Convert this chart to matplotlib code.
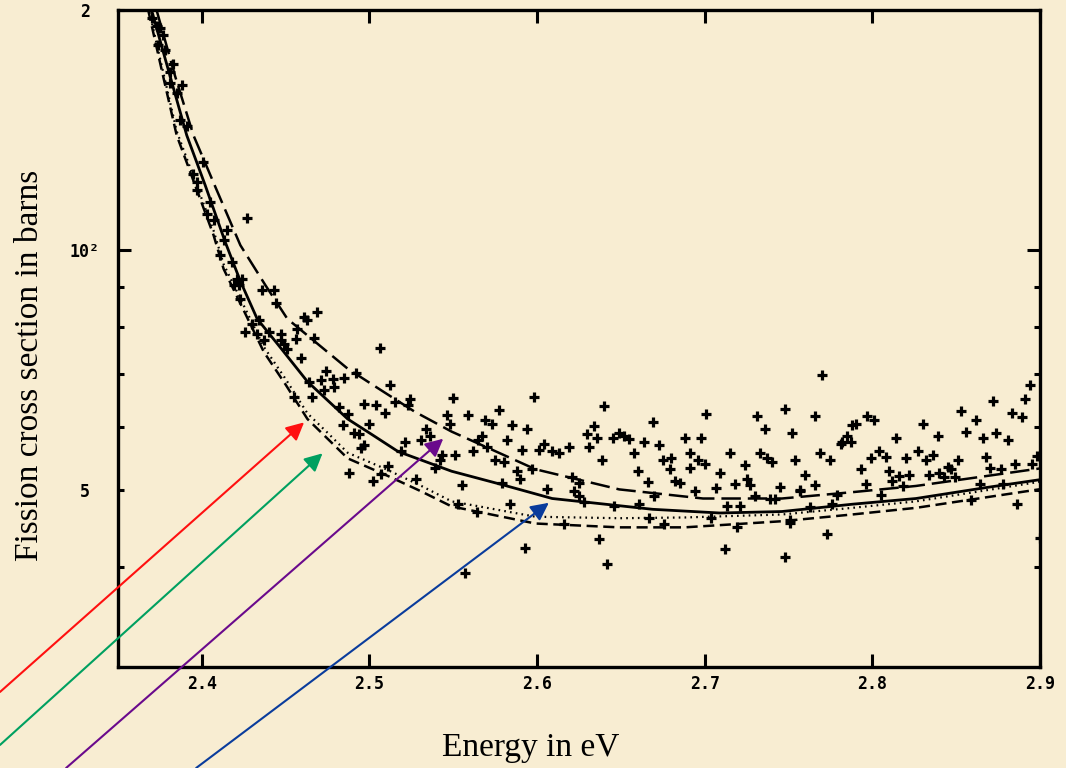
import numpy as np
import matplotlib
matplotlib.use("Agg")
import matplotlib.pyplot as plt

# measured cross sections (energy in eV, sigma in barns)
pts_E = [
    2.370, 2.375, 2.374, 2.378, 2.383, 2.388, 2.381, 2.387, 2.391, 2.401,
    2.395, 2.397, 2.405, 2.403, 2.407, 2.415, 2.413, 2.427, 2.397, 2.373,
    2.377, 2.385, 2.381,
    2.411, 2.418, 2.421, 2.424, 2.419, 2.422, 2.436, 2.443, 2.423, 2.444,
    2.461, 2.463, 2.469, 2.430, 2.434, 2.426, 2.433, 2.440, 2.447, 2.457,
    2.456, 2.447, 2.449, 2.437, 2.451, 2.467, 2.506, 2.459, 2.474, 2.471,
    2.478, 2.479, 2.473, 2.464, 2.485, 2.492, 2.512, 2.524, 2.523, 2.550,
    2.466, 2.455, 2.482, 2.487, 2.497, 2.504, 2.509, 2.515, 2.500, 2.484,
    2.491, 2.494, 2.521, 2.534, 2.536, 2.546, 2.548, 2.559, 2.497, 2.495,
    2.519, 2.531, 2.543, 2.542, 2.551, 2.562, 2.565, 2.511, 2.507, 2.488,
    2.502, 2.528, 2.539, 2.555,
    2.598, 2.577, 2.640, 2.569, 2.573, 2.669, 2.701, 2.731, 2.748, 2.585,
    2.594, 2.634, 2.649, 2.652, 2.655, 2.630, 2.636, 2.645, 2.664, 2.673,
    2.688, 2.698, 2.736, 2.752, 2.567, 2.582, 2.570, 2.591, 2.604, 2.601,
    2.609, 2.613, 2.619, 2.631, 2.639, 2.658, 2.660, 2.675, 2.680, 2.691,
    2.696, 2.700, 2.715, 2.733, 2.737, 2.740, 2.754, 2.679, 2.691, 2.709,
    2.724, 2.575, 2.580, 2.588, 2.590, 2.597, 2.621, 2.625, 2.666, 2.682,
    2.685, 2.725, 2.745, 2.757, 2.718, 2.727, 2.579, 2.606, 2.622, 2.625,
    2.628, 2.646, 2.661, 2.694, 2.670, 2.707, 2.713, 2.721, 2.730, 2.739,
    2.742, 2.553, 2.564, 2.584, 2.667, 2.676, 2.704, 2.719, 2.616, 2.751,
    2.593, 2.637, 2.712, 2.748, 2.642, 2.557,
    2.770, 2.894, 2.872, 2.891, 2.883, 2.889, 2.853, 2.862, 2.766, 2.797,
    2.801, 2.830, 2.790, 2.788, 2.856, 2.874, 2.881, 2.866, 2.785, 2.782,
    2.787, 2.781, 2.814, 2.839, 2.769, 2.775, 2.799, 2.804, 2.808, 2.820,
    2.827, 2.832, 2.836, 2.851, 2.868, 2.898, 2.885, 2.895, 2.870, 2.877,
    2.845, 2.847, 2.793, 2.810, 2.816, 2.822, 2.834, 2.840, 2.843, 2.849,
    2.760, 2.812, 2.796, 2.766, 2.818, 2.864, 2.878, 2.757, 2.779, 2.805,
    2.886, 2.776, 2.763, 2.751, 2.859, 2.900, 2.773,
]
pts_sigma = [
    195.4, 190.0, 181.0, 178.0, 171.0, 161.0, 162.0, 145.5, 143.0, 129.0,
    124.5, 119.0, 115.0, 111.0, 109.0, 106.0, 103.0, 109.7, 121.6, 191.0,
    186.0, 157.6, 167.0,
    98.6, 96.6, 92.0, 92.0, 90.4, 90.4, 89.0, 89.0, 86.8, 85.8,
    82.5, 81.8, 83.6, 80.8, 81.8, 79.0, 78.5, 79.0, 78.5, 79.7,
    77.4, 77.2, 76.3, 77.2, 75.2, 77.6, 75.4, 73.3, 70.6, 68.8,
    69.0, 67.4, 66.8, 68.4, 69.2, 70.2, 67.8, 65.0, 64.0, 65.2,
    65.5, 65.5, 63.6, 62.2, 64.2, 64.0, 62.4, 64.4, 60.6, 60.4,
    58.9, 58.8, 57.5, 59.6, 58.4, 62.1, 60.6, 62.1, 57.0, 56.4,
    55.9, 57.7, 55.4, 54.5, 55.3, 55.9, 57.7, 53.6, 52.4, 52.6,
    51.3, 51.6, 53.3, 50.8,
    65.5, 63.0, 63.8, 61.3, 60.6, 60.8, 62.2, 61.9, 63.2, 60.3,
    59.6, 60.1, 58.9, 58.4, 57.9, 58.8, 58.2, 58.1, 57.5, 57.0,
    58.1, 58.2, 59.6, 58.9, 58.4, 57.7, 56.7, 56.2, 57.2, 56.2,
    55.9, 55.6, 56.6, 56.7, 54.6, 55.7, 52.8, 54.6, 54.8, 55.7,
    54.6, 53.9, 55.6, 55.6, 54.8, 54.3, 54.5, 53.1, 53.3, 52.6,
    53.7, 54.6, 54.3, 52.9, 51.6, 53.1, 51.9, 51.0, 51.2, 51.3,
    51.0, 51.6, 50.5, 49.8, 50.9, 50.7, 51.0, 50.1, 49.8, 49.1,
    48.3, 47.7, 48.0, 49.8, 49.1, 50.3, 47.8, 47.8, 49.1, 48.8,
    48.8, 48.0, 46.9, 48.0, 46.1, 45.3, 46.1, 45.0, 45.3, 45.8,
    42.3, 43.4, 42.2, 41.2, 40.4, 39.4,
    69.8, 67.8, 64.6, 65.0, 62.5, 61.7, 62.9, 61.2, 61.9, 61.9,
    61.3, 60.6, 60.6, 60.3, 59.1, 58.9, 57.7, 58.1, 58.4, 57.5,
    57.5, 57.2, 58.2, 58.4, 55.6, 54.5, 54.8, 56.0, 55.0, 54.8,
    56.0, 54.6, 55.4, 54.6, 55.0, 55.2, 53.9, 53.9, 53.3, 53.1,
    53.4, 53.1, 53.1, 52.8, 52.1, 52.3, 52.3, 52.5, 51.9, 51.9,
    52.3, 51.3, 50.9, 50.7, 50.6, 50.9, 50.9, 50.0, 49.3, 49.3,
    48.1, 48.0, 47.6, 45.5, 48.6, 43.5, 44.0,
]

# fitted curves
solid_E = [2.370, 2.381, 2.391, 2.402, 2.414, 2.423, 2.433, 2.447, 2.463, 2.475,
           2.487, 2.502, 2.517, 2.549, 2.579, 2.609, 2.669, 2.709, 2.746, 2.788,
           2.826, 2.866, 2.902]
solid_sigma = [200.0, 165.4, 139.3, 120.6, 102.3, 91.4, 82.0, 75.4, 68.4, 64.8,
               61.4, 58.6, 55.9, 52.8, 50.8, 48.8, 47.3, 46.8, 47.0, 48.0,
               48.8, 50.3, 51.6]

longdash_E = [2.373, 2.384, 2.395, 2.408, 2.423, 2.438, 2.451, 2.469, 2.487, 2.507,
              2.527, 2.549, 2.573, 2.599, 2.649, 2.699, 2.746, 2.788, 2.826, 2.866,
              2.902]
longdash_sigma = [200.0, 165.4, 139.3, 120.1, 101.4, 90.3, 82.0, 76.3, 71.0, 66.7,
                  62.7, 59.2, 56.2, 53.1, 50.1, 48.8, 48.8, 49.7, 50.6, 52.0,
                  53.3]

lower_E = [2.368, 2.377, 2.385, 2.396, 2.407, 2.413, 2.425, 2.437, 2.450, 2.463,
           2.475, 2.487, 2.510, 2.531, 2.549, 2.599, 2.649, 2.688, 2.746, 2.788,
           2.826, 2.866, 2.902]
dashed_sigma = [200.0, 164.9, 139.3, 120.6, 104.4, 94.7, 84.0, 74.5, 67.8, 61.4,
                58.0, 54.8, 52.2, 49.8, 47.7, 45.4, 44.9, 44.9, 45.7, 46.6,
                47.5, 48.9, 50.2]
dotted_sigma = [202.0, 167.0, 141.0, 122.0, 105.8, 96.0, 85.2, 75.6, 68.9, 62.4,
                59.0, 55.7, 53.1, 50.6, 48.4, 46.3, 46.1, 46.2, 46.6, 47.5,
                48.4, 49.9, 51.3]

# arrows: tip (eV, barns), tail (figure fraction), colour
arrow_tips = [(2.461, 60.8), (2.472, 55.6), (2.544, 58.0), (2.607, 48.2)]
arrow_tails = [(0.0, 0.099), (0.0, 0.030), (0.062, 0.0), (0.184, 0.0)]
arrow_colors = ['#ff1010', '#00a060', '#6a0a8c', '#0a3c9c']

bg = '#f8edd2'
plt.rcParams['lines.scale_dashes'] = False

fig = plt.figure(figsize=(10.66, 7.68), dpi=100, facecolor=bg)
ax = fig.add_axes([118/1066, 1 - 667/768, (1040-118)/1066, (667-10)/768])
ax.set_facecolor(bg)
ax.set_yscale('log')

ax.plot(solid_E, solid_sigma, color='k', lw=2.0)
ax.plot(longdash_E, longdash_sigma, color='k', lw=1.8, dashes=(14, 5))
ax.plot(lower_E, dotted_sigma, color='k', lw=1.6, dashes=(1.2, 3.0))
ax.plot(lower_E, dashed_sigma, color='k', lw=1.8, dashes=(8, 4))
ax.plot(pts_E, pts_sigma, '+', color='k', ms=7, mew=2.3)

ax.set_xlim(2.35, 2.9)
ax.set_ylim(30, 200)

for s in ax.spines.values():
    s.set_linewidth(2.4)

tickfont = dict(family='DejaVu Sans Mono', weight='bold', size=12)
ax.set_xticks([2.4, 2.5, 2.6, 2.7, 2.8, 2.9])
ax.set_xticklabels(['2.4', '2.5', '2.6', '2.7', '2.8', '2.9'], fontdict=tickfont)
ax.set_yticks([100])
ax.set_yticklabels(['10²'], fontdict=tickfont)
ax.set_yticks([40, 50, 60, 70, 80, 90, 200], minor=True)
ax.set_yticklabels(['', '5', '', '', '', '', '2'], minor=True, fontdict=tickfont)
ax.tick_params(axis='both', which='major', direction='in', length=9.5, width=2.2,
               top=True, right=True, color='k')
ax.tick_params(axis='y', which='minor', direction='in', length=4.5, width=2.2,
               right=True, pad=24)
ax.tick_params(axis='y', which='major', pad=24)
ax.tick_params(axis='x', which='major', pad=6)
ax.xaxis.set_minor_locator(matplotlib.ticker.NullLocator())
for lab in ax.yaxis.get_majorticklabels() + ax.yaxis.get_minorticklabels():
    lab.set_horizontalalignment('center')

for tip, tail, c in zip(arrow_tips, arrow_tails, arrow_colors):
    ax.annotate('', xy=tip, xycoords='data', xytext=tail, textcoords='figure fraction',
                annotation_clip=False,
                arrowprops=dict(arrowstyle='-|>,head_length=0.9,head_width=0.45',
                                color=c, lw=1.5, shrinkA=0, shrinkB=0,
                                mutation_scale=12))

fig.text(531/1066, 1 - 748/768, 'Energy in eV', family='Liberation Serif',
         size=24, ha='center', va='center')
fig.text(30/1066, 1 - 365/768, 'Fission cross section in barns',
         family='Liberation Serif', size=24, ha='center', va='center', rotation=90)

fig.savefig('out.png', dpi=100, facecolor=bg)
